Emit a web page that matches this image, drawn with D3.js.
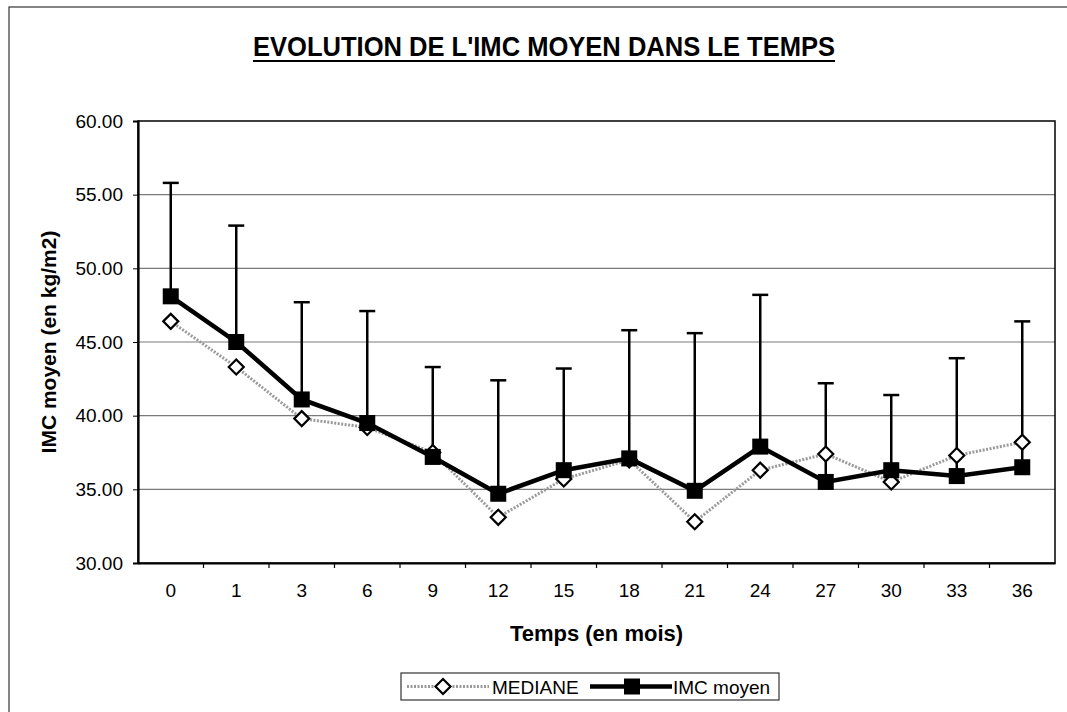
<!DOCTYPE html>
<html>
<head>
<meta charset="utf-8">
<script src="https://cdn.jsdelivr.net/npm/d3@7"></script>
<style>
    body { margin: 0; background: #fff; }
    svg { font-family: "Liberation Sans", Arial, sans-serif; }
</style>
</head>
<body>
<svg></svg>
<script>
let mois = ["0", "1", "3", "6", "9", "12", "15", "18", "21", "24", "27", "30", "33", "36"]
let imcMoyen = [48.1, 45.0, 41.1, 39.5, 37.2, 34.7, 36.3, 37.1, 34.9, 37.9, 35.5, 36.3, 35.9, 36.5]
let mediane = [46.4, 43.3, 39.8, 39.2, 37.5, 33.1, 35.7, 37.0, 32.8, 36.3, 37.4, 35.5, 37.3, 38.2]
let ecartType = [7.7, 7.9, 6.6, 7.6, 6.1, 7.7, 6.9, 8.7, 10.7, 10.3, 6.7, 5.1, 8.0, 9.9]
let yTicks = [30, 35, 40, 45, 50, 55, 60]

let width = 1067
let height = 712
let plotLeft = 138
let plotRight = 1055
let plotTop = 121
let plotBottom = 563

let svg = d3.select("svg")
let xScale
let yScale

let drawCanvas = () => {
    svg.attr("width", width)
        .attr("height", height)

    // cadre exterieur du graphique
    svg.append("rect")
        .attr("x", 9)
        .attr("y", 7)
        .attr("width", width + 10)
        .attr("height", height + 10)
        .attr("fill", "none")
        .attr("stroke", "#333")
        .attr("stroke-width", 1.2)

    svg.append("text")
        .text("EVOLUTION DE L'IMC MOYEN DANS LE TEMPS")
        .attr("x", 253)
        .attr("y", 56)
        .attr("textLength", 582)
        .attr("lengthAdjust", "spacingAndGlyphs")
        .style("font-size", "28px")
        .style("font-weight", "bold")

    svg.append("line")
        .attr("x1", 253)
        .attr("x2", 835)
        .attr("y1", 61)
        .attr("y2", 61)
        .attr("stroke", "black")
        .attr("stroke-width", 2)
}

let generateScales = () => {
    xScale = d3.scaleBand()
                .domain(mois)
                .range([plotLeft, plotRight])

    yScale = d3.scaleLinear()
                .domain([30, 60])
                .range([plotBottom, plotTop])
}

let generateAxes = () => {
    // grille
    svg.append("g")
        .selectAll("line")
        .data(yTicks.slice(1, -1))
        .enter()
        .append("line")
        .attr("x1", plotLeft)
        .attr("x2", plotRight)
        .attr("y1", (d) => yScale(d))
        .attr("y2", (d) => yScale(d))
        .attr("stroke", "#7a7a7a")
        .attr("stroke-width", 1.2)

    svg.append("rect")
        .attr("x", plotLeft)
        .attr("y", plotTop)
        .attr("width", plotRight - plotLeft)
        .attr("height", plotBottom - plotTop)
        .attr("fill", "none")
        .attr("stroke", "black")
        .attr("stroke-width", 1.5)

    let yAxis = d3.axisLeft(yScale)
                    .tickValues(yTicks)
                    .tickFormat(d3.format(".2f"))
                    .tickSize(5)
                    .tickPadding(10)

    let gy = svg.append("g")
        .attr("transform", "translate(" + plotLeft + ",0)")
        .call(yAxis)
    gy.select(".domain").attr("stroke-width", 2.2)
    gy.selectAll("text")
        .style("font-size", "19px")
        .style("font-family", "Liberation Sans, Arial, sans-serif")
        .attr("fill", "black")

    let xAxis = d3.axisBottom(xScale)
                    .tickSize(0)
                    .tickPadding(21)

    let gx = svg.append("g")
        .attr("transform", "translate(0," + plotBottom + ")")
        .call(xAxis)
    gx.select(".domain").attr("stroke-width", 2)
    gx.selectAll("text")
        .style("font-size", "19px")
        .style("font-family", "Liberation Sans, Arial, sans-serif")
        .attr("fill", "black")

    // graduations entre les categories
    gx.selectAll(".sep")
        .data(mois.slice(1))
        .enter()
        .append("line")
        .attr("class", "sep")
        .attr("x1", (d) => xScale(d))
        .attr("x2", (d) => xScale(d))
        .attr("y1", 0)
        .attr("y2", 5)
        .attr("stroke", "black")
        .attr("stroke-width", 1.2)
}

let cx = (i) => xScale(mois[i]) + xScale.bandwidth() / 2

let drawSeries = () => {
    // barres d'erreur (au-dessus seulement)
    let err = svg.append("g")
    err.selectAll("line.bar")
        .data(imcMoyen)
        .enter()
        .append("line")
        .attr("class", "bar")
        .attr("x1", (d, i) => cx(i))
        .attr("x2", (d, i) => cx(i))
        .attr("y1", (d) => yScale(d))
        .attr("y2", (d, i) => yScale(d + ecartType[i]))
        .attr("stroke", "black")
        .attr("stroke-width", 2.5)
    err.selectAll("line.cap")
        .data(imcMoyen)
        .enter()
        .append("line")
        .attr("class", "cap")
        .attr("x1", (d, i) => cx(i) - 8)
        .attr("x2", (d, i) => cx(i) + 8)
        .attr("y1", (d, i) => yScale(d + ecartType[i]))
        .attr("y2", (d, i) => yScale(d + ecartType[i]))
        .attr("stroke", "black")
        .attr("stroke-width", 2.5)

    // mediane
    let lineMed = d3.line()
                    .x((d, i) => cx(i))
                    .y((d) => yScale(d))

    svg.append("path")
        .datum(mediane)
        .attr("d", lineMed)
        .attr("fill", "none")
        .attr("stroke", "#9a9a9a")
        .attr("stroke-width", 3)
        .attr("stroke-dasharray", "2,1.5")

    svg.append("g")
        .selectAll("path")
        .data(mediane)
        .enter()
        .append("path")
        .attr("d", "M0,-7.5L7.5,0L0,7.5L-7.5,0Z")
        .attr("transform", (d, i) => "translate(" + cx(i) + "," + yScale(d) + ")")
        .attr("fill", "white")
        .attr("stroke", "black")
        .attr("stroke-width", 2.2)

    // IMC moyen
    svg.append("path")
        .datum(imcMoyen)
        .attr("d", lineMed)
        .attr("fill", "none")
        .attr("stroke", "black")
        .attr("stroke-width", 4.5)

    svg.append("g")
        .selectAll("rect")
        .data(imcMoyen)
        .enter()
        .append("rect")
        .attr("x", (d, i) => cx(i) - 8)
        .attr("y", (d) => yScale(d) - 8)
        .attr("width", 16)
        .attr("height", 16)
        .attr("fill", "black")
}

let axisName = () => {
    svg.append("text")
        .text("Temps (en mois)")
        .attr("x", (plotLeft + plotRight) / 2)
        .attr("y", 641)
        .attr("text-anchor", "middle")
        .style("font-size", "22px")
        .style("font-weight", "bold")

    svg.append("text")
        .text("IMC moyen (en kg/m2)")
        .attr("transform", "translate(56," + (plotTop + plotBottom) / 2 + ") rotate(-90)")
        .attr("text-anchor", "middle")
        .style("font-size", "21px")
        .style("font-weight", "bold")
}

let drawLegend = () => {
    let legend = svg.append("g")

    legend.append("rect")
        .attr("x", 401)
        .attr("y", 673)
        .attr("width", 378)
        .attr("height", 27)
        .attr("fill", "white")
        .attr("stroke", "#333")
        .attr("stroke-width", 1.2)

    let ly = 686.5

    legend.append("line")
        .attr("x1", 407)
        .attr("x2", 489)
        .attr("y1", ly)
        .attr("y2", ly)
        .attr("stroke", "#9a9a9a")
        .attr("stroke-width", 3)
        .attr("stroke-dasharray", "2,1.5")
    legend.append("path")
        .attr("d", "M0,-7.5L7.5,0L0,7.5L-7.5,0Z")
        .attr("transform", "translate(443," + ly + ")")
        .attr("fill", "white")
        .attr("stroke", "black")
        .attr("stroke-width", 2.2)
    legend.append("text")
        .text("MEDIANE")
        .attr("x", 492)
        .attr("y", ly + 7)
        .style("font-size", "19px")

    legend.append("line")
        .attr("x1", 590)
        .attr("x2", 672)
        .attr("y1", ly)
        .attr("y2", ly)
        .attr("stroke", "black")
        .attr("stroke-width", 4.5)
    legend.append("rect")
        .attr("x", 624)
        .attr("y", ly - 8)
        .attr("width", 16)
        .attr("height", 16)
        .attr("fill", "black")
    legend.append("text")
        .text("IMC moyen")
        .attr("x", 673)
        .attr("y", ly + 7)
        .style("font-size", "19px")
}

drawCanvas()
generateScales()
generateAxes()
drawSeries()
axisName()
drawLegend()
</script>
</body>
</html>
